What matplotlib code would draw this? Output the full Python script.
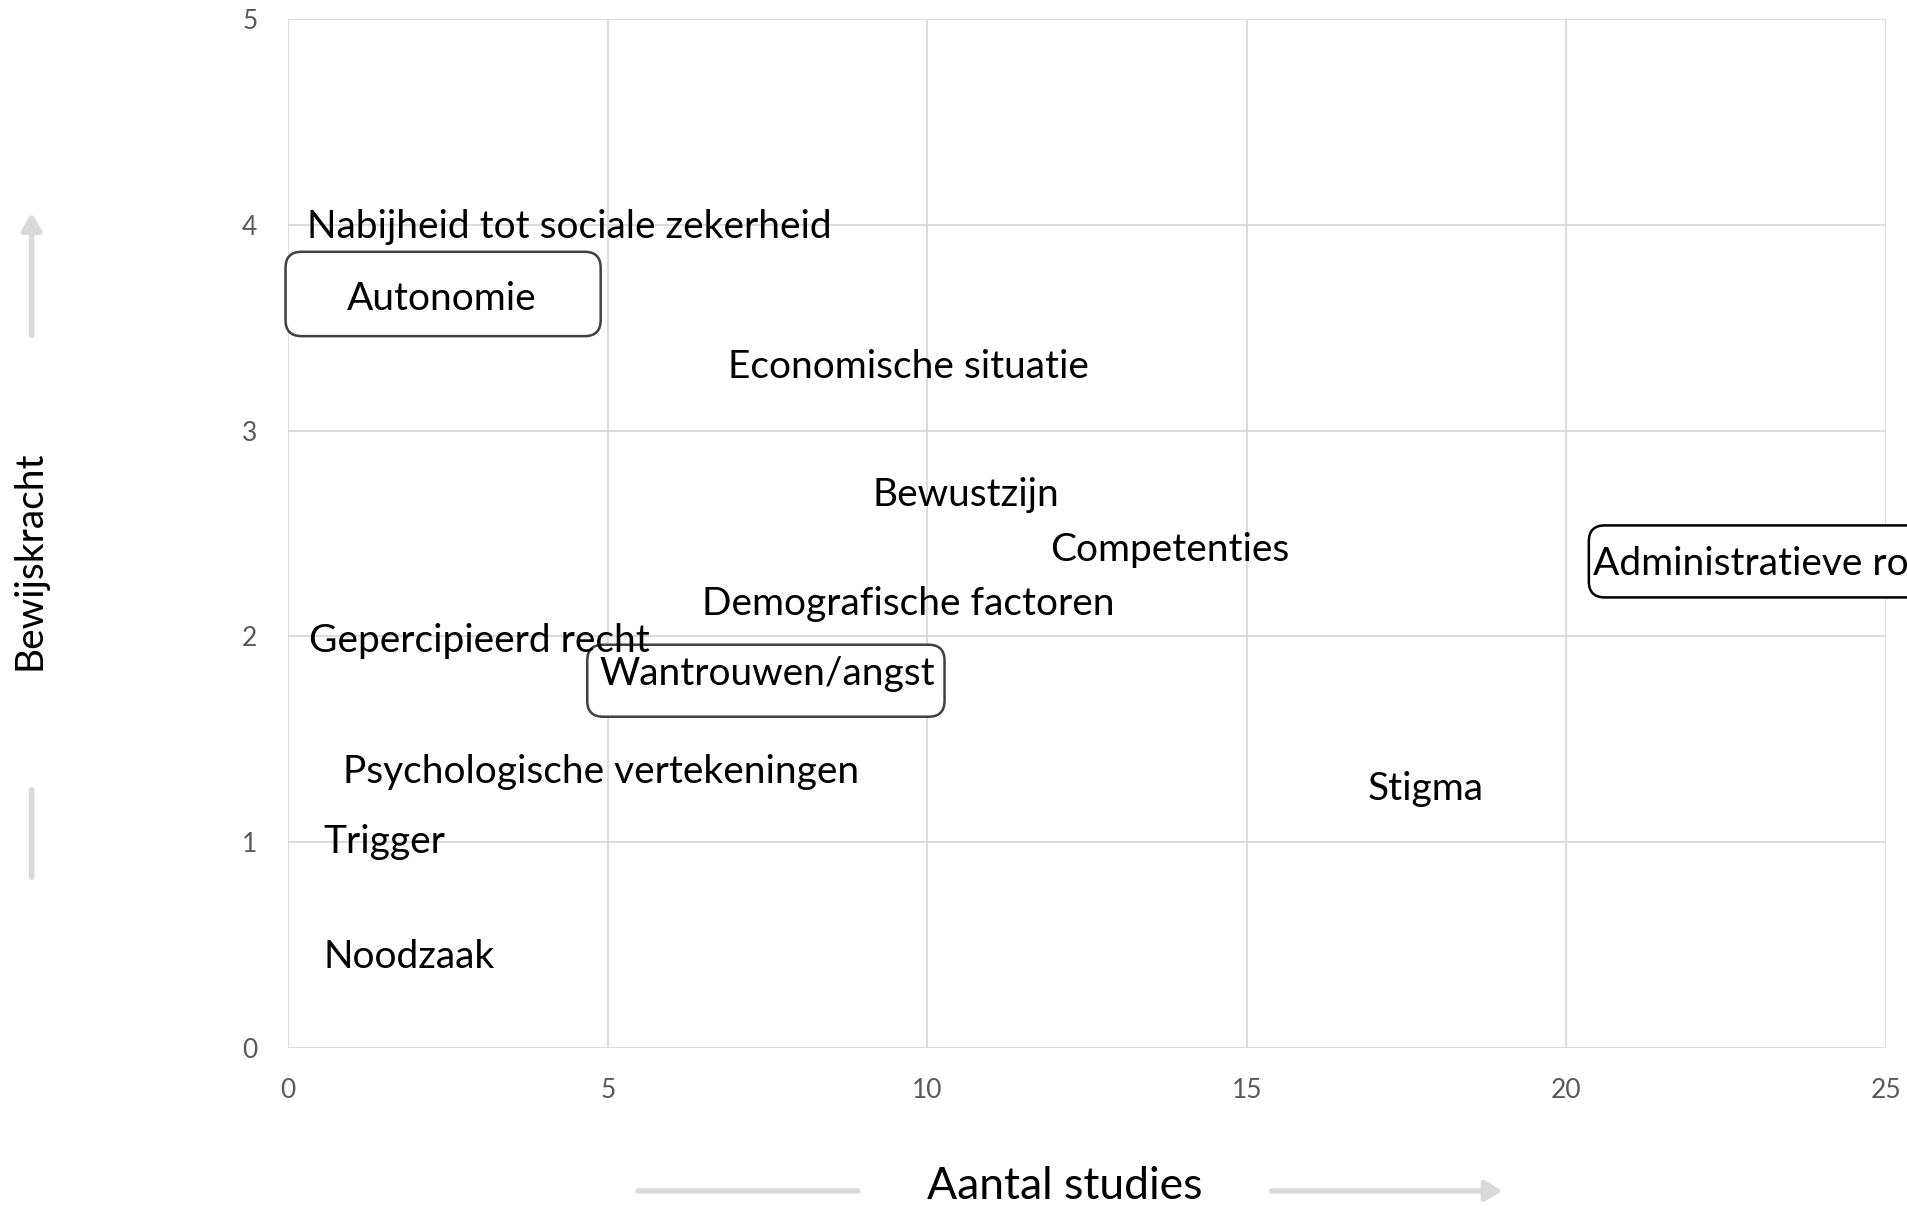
import matplotlib.pyplot as plt
from matplotlib.patches import FancyBboxPatch, FancyArrowPatch

plt.rcParams['font.family'] = ['Lato', 'DejaVu Sans']

factoren = ['Nabijheid tot sociale zekerheid', 'Autonomie', 'Economische situatie',
            'Bewustzijn', 'Competenties', 'Administratieve rompslomp',
            'Demografische factoren', 'Gepercipieerd recht', 'Wantrouwen/angst',
            'Psychologische vertekeningen', 'Stigma', 'Trigger', 'Noodzaak']
aantal_studies = [4.4, 2.4, 9.7, 10.6, 13.8, 24.1, 9.7, 3.0, 7.5, 4.9, 17.8, 1.5, 1.9]
bewijskracht = [3.99, 3.64, 3.31, 2.69, 2.42, 2.35, 2.16, 1.98, 1.82, 1.34, 1.26, 1.00, 0.44]

# kaders om de belangrijkste factoren (x0, y0, breedte, hoogte)
kaders = [(-0.04, 3.46, 4.93, 0.41, '#404040'),
          (4.68, 1.61, 5.59, 0.35, '#404040'),
          (20.35, 2.19, 6.0, 0.35, 'black')]

grijs = '#d9d9d9'

fig = plt.figure(figsize=(19.08, 12.08), dpi=100)
ax = fig.add_axes([0.151, 0.1325, 0.8375, 0.8515])

ax.set_xlim(0, 25)
ax.set_ylim(0, 5)
ax.set_xticks(range(0, 26, 5))
ax.set_yticks(range(0, 6))
ax.grid(True, color=grijs, linewidth=1.3)
ax.set_axisbelow(True)
for s in ax.spines.values():
    s.set_visible(False)
ax.tick_params(length=0, labelsize=19, labelcolor='#595959', pad=22)

for x0, y0, w, h, kleur in kaders:
    ax.add_patch(FancyBboxPatch((x0, y0), w, h, boxstyle='round,pad=0,rounding_size=0.25',
                                mutation_aspect=0.31, facecolor='white', edgecolor=kleur,
                                linewidth=1.8, clip_on=False, zorder=2))

for naam, x, y in zip(factoren, aantal_studies, bewijskracht):
    ax.text(x, y, naam, ha='center', va='center', fontsize=28, zorder=3, clip_on=False)

fig.text(0.558, 0.018, 'Aantal studies', ha='center', va='center', fontsize=32)
fig.text(0.0155, 0.536, 'Bewijskracht', ha='center', va='center', fontsize=28, rotation=90)

# pijlen langs de assen
pijl = dict(color=grijs, linewidth=4, transform=fig.transFigure)
fig.add_artist(FancyArrowPatch((0.0166, 0.720), (0.0166, 0.826),
                               arrowstyle='-|>,head_length=0.5,head_width=0.3',
                               mutation_scale=20, **pijl))
fig.add_artist(FancyArrowPatch((0.0166, 0.3485), (0.0166, 0.2715),
                               arrowstyle='-', **pijl))
fig.add_artist(FancyArrowPatch((0.333, 0.0141), (0.451, 0.0141),
                               arrowstyle='-', **pijl))
fig.add_artist(FancyArrowPatch((0.665, 0.0141), (0.789, 0.0141),
                               arrowstyle='-|>,head_length=0.5,head_width=0.3',
                               mutation_scale=20, **pijl))

fig.savefig('out.png', dpi=100)
